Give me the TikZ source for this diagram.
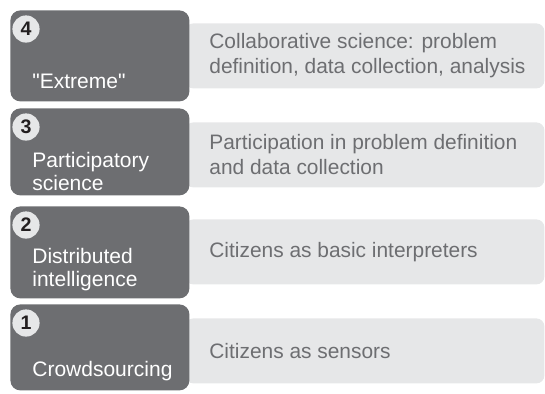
\documentclass[tikz,border=0pt]{standalone}
\usepackage{fontspec}
\setmainfont{Liberation Sans}
\newfontfamily\lvlfont{Liberation Sans}
\usetikzlibrary{positioning}
\definecolor{lvlgray}{HTML}{6D6E71}
\definecolor{descgray}{HTML}{E6E7E8}
\definecolor{numblack}{HTML}{231F20}

\begin{document}
\begin{tikzpicture}[x=0.5pt,y=-0.5pt,
  lvl/.style={rectangle,rounded corners=5pt,fill=lvlgray,anchor=north west,minimum width=89.5pt,inner sep=0pt},
  desc/.style={rectangle,rounded corners=4pt,fill=descgray,anchor=north west,minimum width=179.5pt,minimum height=32.5pt,inner sep=0pt},
  desctext/.style={inner sep=0pt,align=left,text=lvlgray,font=\fontsize{10.45}{12.4}\selectfont},
  lvlname/.style={anchor=base west,inner sep=0pt,align=left,text=white,font=\lvlfont\fontsize{10.5}{11.5}\selectfont},
  num/.style={circle,fill=descgray,minimum size=13.6pt,inner sep=0pt,text=numblack,font=\fontsize{9.8}{9.8}\selectfont\bfseries}]
\useasboundingbox (0,0) rectangle (545,393);

% descriptions behind the levels
\node[desc] (desc4) at (185,23) {};
\node[desc] (desc3) at (185,122) {};
\node[desc] (desc2) at (185,219) {};
\node[desc] (desc1) at (185,318) {};
\node[desctext,right=12pt of desc4.west] (text4) {Collaborative science: problem\\definition, data collection, analysis};
\node[desctext,right=12pt of desc3.west] (text3) {Participation in problem definition\\and data collection};
\node[desctext,right=12pt of desc2.west] (text2) {Citizens as basic interpreters};
\node[desctext,right=12pt of desc1.west] (text1) {Citizens as sensors};

% levels (base = last line)
\node[lvl,minimum height=45.5pt] (lvl4) at (10,10) {};
\node[lvl,minimum height=43.5pt] (lvl3) at (10,108) {};
\node[lvl,minimum height=46pt] (lvl2) at (10,206) {};
\node[lvl,minimum height=43pt] (lvl1) at (10,304) {};
\node[lvlname] (name4) at (32,88) {"Extreme"};
\node[lvlname] (name3) at (32,190) {Participatory\\science};
\node[lvlname] (name2) at (32,286) {Distributed\\intelligence};
\node[lvlname] (name1) at (32,376) {Crowdsourcing};

% numbers
\node[num] (num4) at (26,29) {4};
\node[num] (num3) at (26,127) {3};
\node[num] (num2) at (26,225) {2};
\node[num] (num1) at (26,323) {1};
\end{tikzpicture}
\end{document}
